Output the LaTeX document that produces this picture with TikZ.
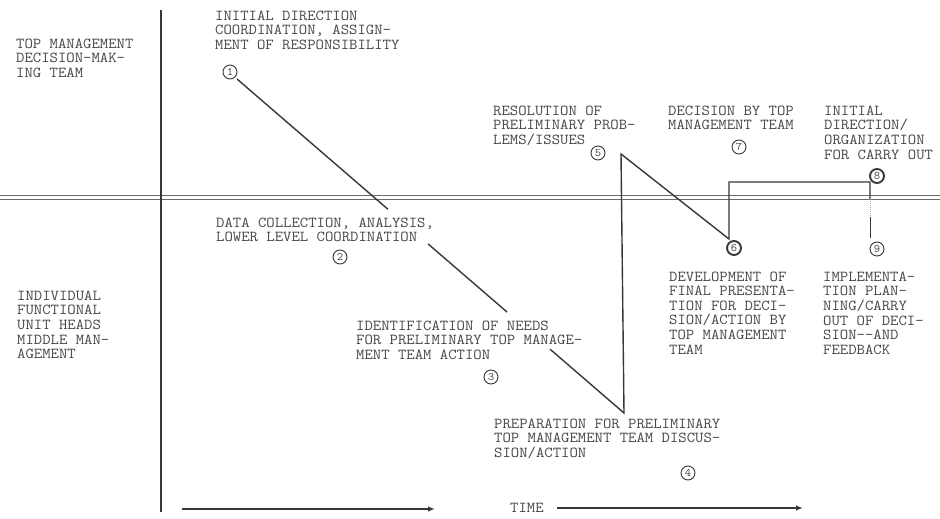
\documentclass[tikz,border=0pt]{standalone}
\usepackage{fontspec}
\setmonofont[FakeStretch=1.07]{Latin Modern Mono}
\usetikzlibrary{arrows.meta,calc}
\definecolor{ink}{rgb}{0.22,0.22,0.22}
\definecolor{typeink}{rgb}{0.28,0.28,0.28}
\definecolor{rule}{rgb}{0.42,0.42,0.42}
\newcommand{\typefont}{\ttfamily\fontsize{15.2}{14.6}\selectfont}
\tikzset{
  lbl/.style={font=\typefont, text=typeink, align=left,
              anchor=north west, inner sep=0pt},
  stage/.style={circle, draw=ink, line width=0.9pt, inner sep=0pt,
                minimum size=14pt, font=\ttfamily\fontsize{11.5}{11.5}\selectfont, text=typeink},
  keystage/.style={stage, line width=1.9pt},
  flow/.style={draw=ink, line width=1.4pt, line join=miter},
  axis/.style={draw=ink, line width=1.5pt},
  levelrule/.style={draw=rule, line width=1.1pt},
  timearrow/.style={draw=ink, line width=1.5pt, -{Latex[length=7pt,width=5.5pt]}},
}
\begin{document}
\begin{tikzpicture}[x=1pt,y=-1pt]
\useasboundingbox[fill=white] (0,0) rectangle (940,519);

% axes: vertical divider and double level line
\coordinate (vtop) at (161,10);
\coordinate (vbot) at (161,512);
\coordinate (hl1) at (0,195.8);
\coordinate (hr1) at (940,195.8);
\coordinate (hl2) at (0,199.6);
\coordinate (hr2) at (940,199.6);
\draw[levelrule] (hl1) -- (hr1);
\draw[levelrule] (hl2) -- (hr2);
\draw[axis] (vtop) -- (vbot);

% level labels
\node[lbl] (top) at (16,38.5) {TOP MANAGEMENT\\DECISION-MAK-\\ING TEAM};
\node[lbl] (mid) at (17,290.5) {INDIVIDUAL\\FUNCTIONAL\\UNIT HEADS\\MIDDLE MAN-\\AGEMENT};

% stage descriptions
\node[lbl] (t1) at (215,10.5) {INITIAL DIRECTION\\COORDINATION, ASSIGN-\\MENT OF RESPONSIBILITY};
\node[lbl] (t2) at (216,217.5) {DATA COLLECTION, ANALYSIS,\\LOWER LEVEL COORDINATION};
\node[lbl] (t3) at (356,320.5) {IDENTIFICATION OF NEEDS\\FOR PRELIMINARY TOP MANAGE-\\MENT TEAM ACTION};
\node[lbl] (t4) at (494,418.5) {PREPARATION FOR PRELIMINARY\\TOP MANAGEMENT TEAM DISCUS-\\SION/ACTION};
\node[lbl] (t5) at (493,105.5) {RESOLUTION OF\\PRELIMINARY PROB-\\LEMS/ISSUES};
\node[lbl] (t7) at (668,105.5) {DECISION BY TOP\\MANAGEMENT TEAM};
\node[lbl] (t8) at (824,105.5) {INITIAL\\DIRECTION/\\ORGANIZATION\\FOR CARRY OUT};
\node[lbl] (t6) at (669,271.5) {DEVELOPMENT OF\\FINAL PRESENTA-\\TION FOR DECI-\\SION/ACTION BY\\TOP MANAGEMENT\\TEAM};
\node[lbl] (t9) at (823,271.5) {IMPLEMENTA-\\TION PLAN-\\NING/CARRY\\OUT OF DECI-\\SION--AND\\FEEDBACK};

% numbered stages
\node[stage] (n1) at (230,72) {1};
\node[stage] (n2) at (340,257) {2};
\node[stage] (n3) at (491,377) {3};
\node[stage] (n4) at (688,473) {4};
\node[stage] (n5) at (598,153) {5};
\node[keystage] (n6) at (734,248) {6};
\node[stage] (n7) at (739,147) {7};
\node[keystage] (n8) at (877,176) {8};
\node[stage] (n9) at (877,249) {9};

% path vertices
\coordinate (a1) at (237,79);
\coordinate (p4) at (624,413);
\coordinate (p5) at (621,154);
\coordinate (v6) at (729,239);
\coordinate (c7) at (729,182);
\coordinate (c8) at (870,182);
\coordinate (d1) at (870,199);
\coordinate (d2) at (870,217);
\coordinate (d3) at (870,238);

% descending line, broken where the texts cross it
\draw[flow] (a1) -- ($(a1)!0.39!(p4)$);
\draw[flow] ($(a1)!0.494!(p4)$) -- ($(a1)!0.698!(p4)$);
\draw[flow] ($(a1)!0.809!(p4)$) -- (p4) -- (p5) -- (v6) -- (c7) -- (c8) -- (d1);
\draw[rule!60, line width=1pt, densely dotted] (d1) -- (d2);
\draw[ink, line width=1pt] (d2) -- (d3);

% time axis
\coordinate (ta1) at (182,509);
\coordinate (ta2) at (435,509);
\coordinate (tb1) at (557,508);
\coordinate (tb2) at (803,508);
\node[font=\typefont, text=typeink, anchor=west, inner sep=0pt] (time) at (510,508) {TIME};
\draw[timearrow] (ta1) -- (ta2);
\draw[timearrow] (tb1) -- (tb2);
\end{tikzpicture}
\end{document}
